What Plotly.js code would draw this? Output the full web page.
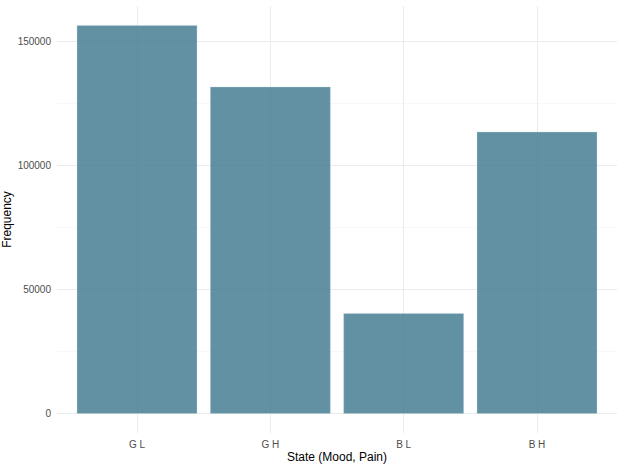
<!DOCTYPE html>
<html>
<head>
<meta charset="utf-8">
<script src="https://cdn.plot.ly/plotly-3.0.1.min.js"></script>
<style>
  html, body { margin: 0; padding: 0; background: #fff; }
  #chart { width: 623px; height: 467px; }
</style>
</head>
<body>
<div id="chart"></div>
<script>
// state categories and their counts
const states = ["G L", "G H", "B L", "B H"];
const counts = [156600, 131800, 40400, 113600];

const trace = {
    x: states,
    y: counts,
    type: "bar",
    width: 0.9,
    marker: {
        color: "rgba(69,126,146,0.85)",
        line: { color: "rgba(200,220,228,0.6)", width: 0.6 }
    },
    hoverinfo: "x+y"
};

const yMax = Math.max(...counts);

const layout = {
    width: 623,
    height: 467,
    margin: { l: 57, r: 6, t: 6, b: 34 },
    paper_bgcolor: "#fff",
    plot_bgcolor: "#fff",
    font: { family: "Liberation Sans, Arial, sans-serif", color: "#000" },
    showlegend: false,
    xaxis: {
        type: "category",
        range: [-0.6, states.length - 0.4],
        showgrid: true,
        gridcolor: "#ebebeb",
        gridwidth: 1,
        zeroline: false,
        showline: false,
        ticks: "outside",
        ticklen: 2,
        tickcolor: "rgba(0,0,0,0)",
        tickfont: { size: 10, color: "#4d4d4d" },
        title: { text: "State (Mood, Pain)", font: { size: 12, color: "#000" }, standoff: 3 }
    },
    yaxis: {
        range: [-0.05 * yMax, 1.05 * yMax],
        tickmode: "linear",
        tick0: 0,
        dtick: 50000,
        tickformat: "d",
        showgrid: true,
        gridcolor: "#ebebeb",
        gridwidth: 1,
        minor: { dtick: 25000, tick0: 0, showgrid: true, gridcolor: "#f4f4f4", gridwidth: 0.6 },
        zeroline: false,
        showline: false,
        ticks: "outside",
        ticklen: 3,
        tickcolor: "rgba(0,0,0,0)",
        tickfont: { size: 10, color: "#4d4d4d" },
        title: { text: "Frequency", font: { size: 12, color: "#000" }, standoff: 4 }
    },
    bargap: 0.1
};

Plotly.newPlot("chart", [trace], layout, { displayModeBar: false, staticPlot: true });
</script>
</body>
</html>
